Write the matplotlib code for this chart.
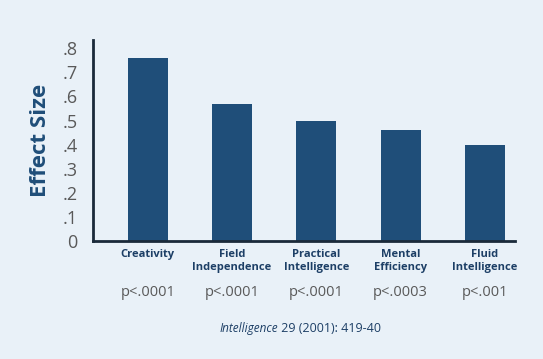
import numpy as np
import matplotlib.pyplot as plt

categories = ['Creativity', 'Field\nIndependence', 'Practical\nIntelligence',
              'Mental\nEfficiency', 'Fluid\nIntelligence']
effect_size = [0.76, 0.57, 0.50, 0.46, 0.40]
p_values = ['p<.0001', 'p<.0001', 'p<.0001', 'p<.0003', 'p<.001']
yticks = [0, 0.1, 0.2, 0.3, 0.4, 0.5, 0.6, 0.7, 0.8]
ytick_labels = ['0', '.1', '.2', '.3', '.4', '.5', '.6', '.7', '.8']

bg = '#e9f1f8'
navy = '#1f4e79'
dark = '#1d3f66'
grey = '#595959'

plt.rcParams['font.family'] = ['Open Sans', 'DejaVu Sans']

fig = plt.figure(figsize=(5.43, 3.59), dpi=100, facecolor=bg)
ax = fig.add_axes([0.171, 0.329, 0.777, 0.56])
ax.set_facecolor(bg)

x = np.arange(len(categories))
ax.bar(x, effect_size, width=0.475, color=navy, zorder=2)

ax.set_xlim(-0.653, 4.356)
ax.set_ylim(0, 0.835)
ax.set_yticks(yticks)
ax.set_yticklabels(ytick_labels, fontsize=13, color=grey)
ax.tick_params(axis='y', length=0, pad=11)
ax.set_xticks(x)
ax.set_xticklabels(categories, fontsize=8, fontweight='bold', color=dark,
                   linespacing=1.25, va='top')
ax.tick_params(axis='x', length=0, pad=6)

for s in ['top', 'right']:
    ax.spines[s].set_visible(False)
for s in ['left', 'bottom']:
    ax.spines[s].set_color('#1a2a3a')
    ax.spines[s].set_linewidth(2)

ax.set_ylabel('Effect Size', fontsize=16, fontweight='bold', color=navy, labelpad=8)

for xi, p in zip(x, p_values):
    ax.annotate(p, xy=(xi, 0), xycoords=('data', 'axes fraction'),
                xytext=(0, -37), textcoords='offset points',
                ha='center', va='center', fontsize=10.5, color=grey)

fig.text(0.512, 0.086, 'Intelligence', style='italic', fontsize=8.5, color=dark,
         ha='right', va='center')
fig.text(0.512, 0.086, ' 29 (2001): 419-40', fontsize=9, color=dark, ha='left', va='center')

fig.savefig('out.png', dpi=100, facecolor=bg)
